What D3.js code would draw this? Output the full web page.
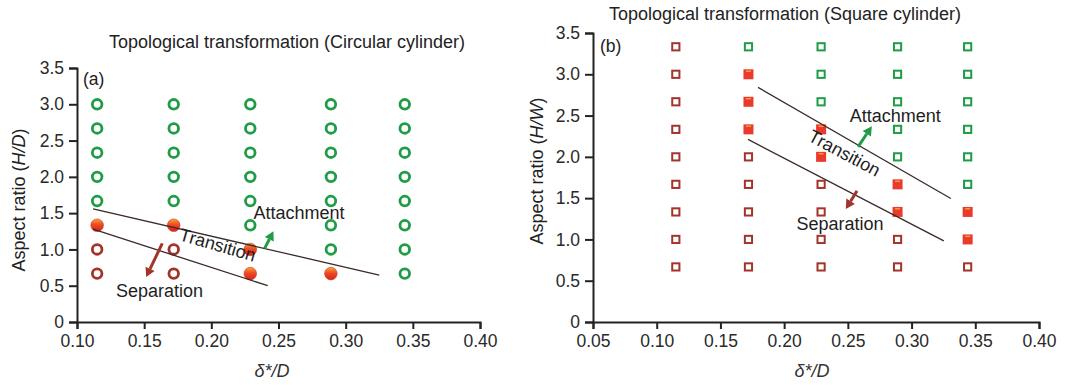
<!DOCTYPE html>
<html>
<head>
<meta charset="utf-8">
<script src="https://cdn.jsdelivr.net/npm/d3@7"></script>
<style>
  body { margin: 0; background: #fff; }
  svg { display: block; font-family: "Liberation Sans", Arial, sans-serif; }
</style>
</head>
<body>
<svg width="1079" height="385"></svg>
<script>
// columns of delta*/D (same for both cylinders)
const deltaRatios = [0.115, 0.172, 0.229, 0.289, 0.344];

// aspect ratios tested, bottom to top
const circAspect = [0.667, 1.0, 1.333, 1.667, 2.0, 2.333, 2.667, 3.0];
const sqAspect = [0.667, 1.0, 1.333, 1.667, 2.0, 2.333, 2.667, 3.0, 3.333];

// flow state per column, one letter per aspect ratio (S separation, T transition, A attachment)
const circStates = ["SSTAAAAA", "SSTAAAAA", "TTAAAAAA", "TAAAAAAA", "AAAAAAAA"];
const sqStates = ["SSSSSSSSS", "SSSSSTTTA", "SSSSTTAAA", "SSTTAAAAA", "STTAAAAAA"];

// boundary lines of the transition band [delta, aspect]
const circUpper = [[0.112, 1.56], [0.325, 0.647]];
const circLower = [[0.112, 1.28], [0.242, 0.50]];
const sqUpper = [[0.1795, 2.841], [0.3308, 1.496]];
const sqLower = [[0.1717, 2.211], [0.3253, 0.982]];

// tick labels
const xTicksA = [0.10, 0.15, 0.20, 0.25, 0.30, 0.35, 0.40];
const xTicksB = [0.05, 0.10, 0.15, 0.20, 0.25, 0.30, 0.35, 0.40];
const yTicks = [0, 0.5, 1.0, 1.5, 2.0, 2.5, 3.0, 3.5];

const svg = d3.select("svg");
const green = "#1f9c46";
const brown = "#a2342a";

//градиент для заполненных кружков
const defs = svg.append("defs");
const grad = defs.append("linearGradient").attr("id", "ball")
    .attr("x1", 0).attr("y1", 0).attr("x2", 0).attr("y2", 1);
grad.append("stop").attr("offset", "0%").attr("stop-color", "#f7a732");
grad.append("stop").attr("offset", "45%").attr("stop-color", "#ee4a25");
grad.append("stop").attr("offset", "100%").attr("stop-color", "#d6241b");

function drawAxes(x, y, xTicks, opts) {
    const fmtY = d => d === 0 ? "0" : d3.format(".1f")(d);
    const gx = svg.append("g")
        .attr("transform", `translate(0,${y.range()[0]})`)
        .call(d3.axisBottom(x).tickValues(xTicks).tickFormat(d3.format(".2f")).tickSize(7).tickPadding(6));
    const gy = svg.append("g")
        .attr("transform", `translate(${x.range()[0]},0)`)
        .call(d3.axisLeft(y).tickValues(yTicks).tickFormat(fmtY).tickSize(8).tickPadding(5));
    [gx, gy].forEach(g => {
        g.select(".domain").attr("stroke", "#222").attr("stroke-width", 2);
        g.selectAll(".tick line").attr("stroke", "#222").attr("stroke-width", 2);
        g.selectAll(".tick text").attr("fill", "#2a2a2a").attr("font-size", 17.5)
            .attr("font-family", "Liberation Sans, Arial, sans-serif");
    });

    //заголовок
    svg.append("text").attr("x", opts.titleX).attr("y", opts.titleY)
        .attr("text-anchor", "middle").attr("font-size", 18).attr("fill", "#222")
        .text(opts.title);

    //подписи осей
    svg.append("text").attr("x", opts.xLabelX).attr("y", 377)
        .attr("text-anchor", "middle").attr("font-size", 18).attr("font-style", "italic")
        .attr("fill", "#333").text("δ*/D");

    const yl = svg.append("text")
        .attr("transform", `translate(${opts.yLabelX},${opts.yLabelY}) rotate(-90)`)
        .attr("text-anchor", "middle").attr("font-size", 18).attr("fill", "#222");
    yl.append("tspan").text("Aspect ratio (");
    yl.append("tspan").attr("font-style", "italic").text(opts.yVar);
    yl.append("tspan").text(")");

    svg.append("text").attr("x", opts.tagX).attr("y", opts.tagY)
        .attr("font-size", 17.5).attr("fill", "#222").text(opts.tag);
}

function boundary(x, y, pts) {
    svg.append("path")
        .attr("d", d3.line().x(d => x(d[0])).y(d => y(d[1]))(pts))
        .attr("stroke", "#3b2a2a").attr("stroke-width", 1.3).attr("fill", "none");
}

//стрелка: [x1,y1] -> [x2,y2] в координатах данных
function arrow(x, y, from, to, color) {
    const x1 = x(from[0]), y1 = y(from[1]);
    const x2 = x(to[0]), y2 = y(to[1]);
    const a = Math.atan2(y2 - y1, x2 - x1);
    const head = 9, half = 5;
    const bx = x2 - head * Math.cos(a), by = y2 - head * Math.sin(a);
    svg.append("line").attr("x1", x1).attr("y1", y1).attr("x2", bx).attr("y2", by)
        .attr("stroke", color).attr("stroke-width", 3);
    const px = Math.sin(a) * half, py = -Math.cos(a) * half;
    svg.append("path")
        .attr("d", `M${x2},${y2}L${bx + px},${by + py}L${bx - px},${by - py}Z`)
        .attr("fill", color);
}

function label(x, y, at, text, angle) {
    const px = x(at[0]), py = y(at[1]);
    svg.append("text")
        .attr("transform", `translate(${px},${py}) rotate(${angle || 0})`)
        .attr("text-anchor", angle ? "middle" : "start")
        .attr("font-size", 18).attr("fill", "#1e1e1e").text(text);
}

// ---------- (a) circular cylinder ----------
const xa = d3.scaleLinear().domain([0.10, 0.40]).range([77, 480]);
const ya = d3.scaleLinear().domain([0, 3.5]).range([322, 68]);

drawAxes(xa, ya, xTicksA, {
    title: "Topological transformation (Circular cylinder)", titleX: 287, titleY: 48,
    xLabelX: 272, yLabelX: 25, yLabelY: 200, yVar: "H/D", tag: "(a)", tagX: 83, tagY: 85
});

const circPts = [];
deltaRatios.forEach((d, i) => circAspect.forEach((h, j) =>
    circPts.push({ d, h, s: circStates[i][j] })));

svg.append("g").selectAll("circle").data(circPts).join("circle")
    .attr("cx", p => xa(p.d)).attr("cy", p => ya(p.h))
    .attr("r", p => p.s === "T" ? 6.3 : 4.8)
    .attr("fill", p => p.s === "T" ? "url(#ball)" : "none")
    .attr("stroke", p => p.s === "A" ? green : p.s === "S" ? brown : "#c8341f")
    .attr("stroke-width", p => p.s === "T" ? 0.6 : 2.8);

boundary(xa, ya, circUpper);
boundary(xa, ya, circLower);
arrow(xa, ya, [0.2397, 1.015], [0.2462, 1.25], green);
arrow(xa, ya, [0.1635, 1.084], [0.1515, 0.62], brown);
label(xa, ya, [0.2313, 1.415], "Attachment");
label(xa, ya, [0.129, 0.344], "Separation");
label(xa, ya, [0.2035, 0.98], "Transition", 16);

// ---------- (b) square cylinder ----------
const xb = d3.scaleLinear().domain([0.05, 0.40]).range([593, 1039]);
const yb = d3.scaleLinear().domain([0, 3.5]).range([322, 33]);

drawAxes(xb, yb, xTicksB, {
    title: "Topological transformation (Square cylinder)", titleX: 785, titleY: 20,
    xLabelX: 812, yLabelX: 543, yLabelY: 171, yVar: "H/W", tag: "(b)", tagX: 600, tagY: 52
});

const sqPts = [];
deltaRatios.forEach((d, i) => sqAspect.forEach((h, j) =>
    sqPts.push({ d, h, s: sqStates[i][j] })));

const sq = svg.append("g").selectAll("g").data(sqPts).join("g")
    .attr("transform", p => `translate(${xb(p.d)},${yb(p.h)})`);
sq.filter(p => p.s !== "T").append("rect")
    .attr("x", -3.6).attr("y", -3.6).attr("width", 7.2).attr("height", 7.2)
    .attr("fill", "none").attr("stroke", p => p.s === "A" ? green : brown).attr("stroke-width", 2);
sq.filter(p => p.s === "T").append("rect")
    .attr("x", -5).attr("y", -5).attr("width", 10).attr("height", 10).attr("fill", "#ea3a2d");
sq.filter(p => p.s === "T").append("rect")
    .attr("x", -2.5).attr("y", -3.8).attr("width", 5).attr("height", 1.4).attr("fill", "#f4a23a");

boundary(xb, yb, sqUpper);
boundary(xb, yb, sqLower);
arrow(xb, yb, [0.258, 2.121], [0.2688, 2.37], green);
arrow(xb, yb, [0.2572, 1.588], [0.2484, 1.37], brown);
label(xb, yb, [0.2515, 2.424], "Attachment");
label(xb, yb, [0.2097, 1.12], "Separation");
label(xb, yb, [0.245, 1.98], "Transition", 28);
</script>
</body>
</html>
